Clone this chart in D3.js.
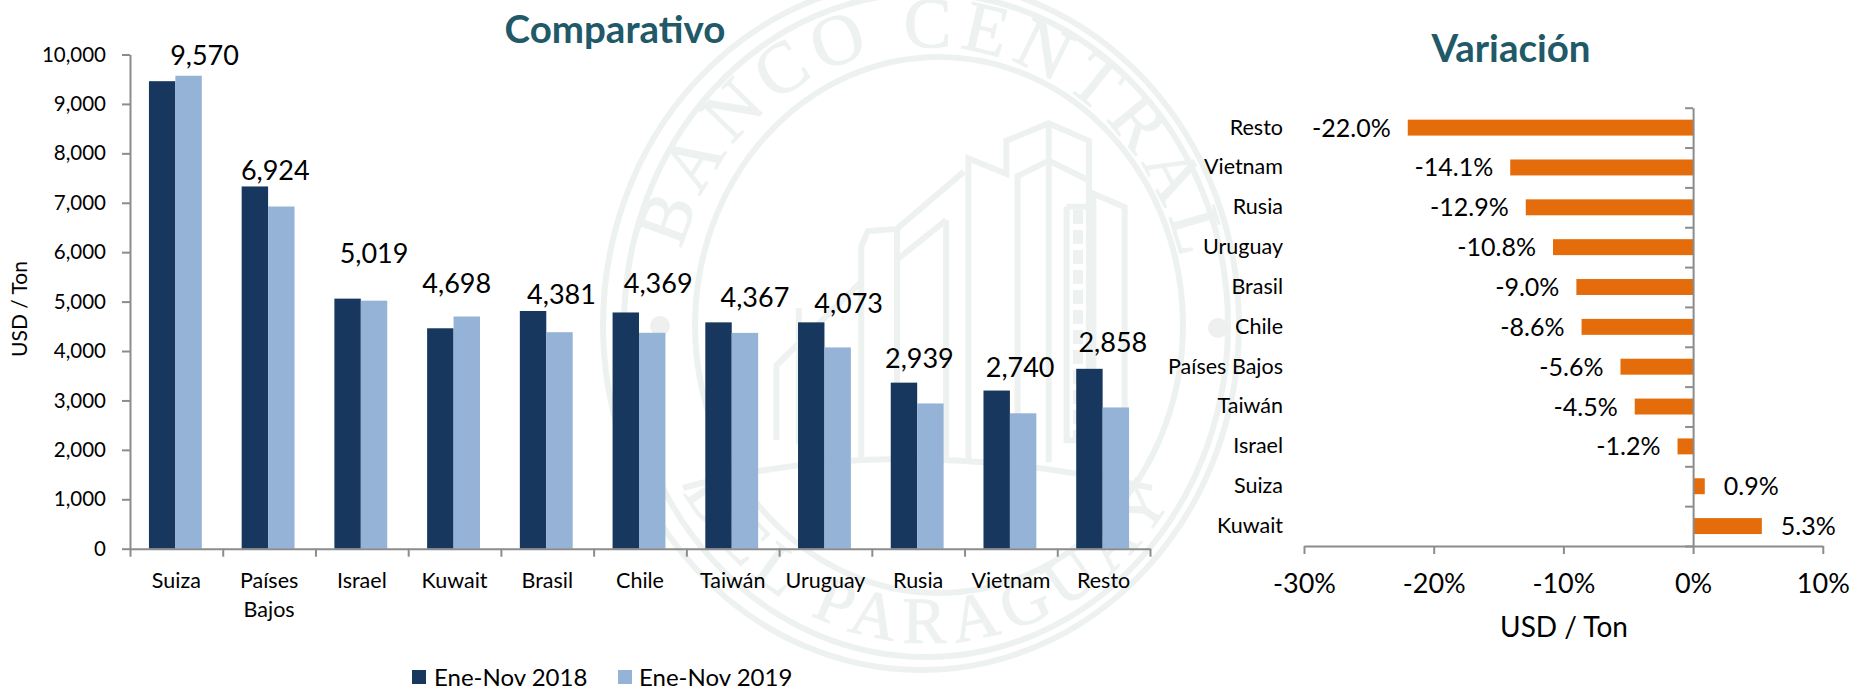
<!DOCTYPE html>
<meta charset="utf-8">
<style>
  html, body { margin: 0; padding: 0; background: #fff; }
  svg { display: block; }
  text { font-family: Lato, "Open Sans", sans-serif; fill: #000; }
  .axis path, .axis line { stroke: #8c8c8c; stroke-width: 2; }
</style>
<script src="https://cdn.jsdelivr.net/npm/d3@7"></script>
<div id="my_dataviz"></div>
<script>

// Comparativo
var categories = ["Suiza", "Países Bajos", "Israel", "Kuwait", "Brasil", "Chile", "Taiwán", "Uruguay", "Rusia", "Vietnam", "Resto"];
var values2018 = [9460, 7330, 5060, 4460, 4810, 4780, 4580, 4580, 3360, 3200, 3640];
var values2019 = [9570, 6924, 5019, 4698, 4381, 4369, 4367, 4073, 2939, 2740, 2858];
var yTicks = [0, 1000, 2000, 3000, 4000, 5000, 6000, 7000, 8000, 9000, 10000];
var seriesNames = ["Ene-Nov 2018", "Ene-Nov 2019"];

// Variación
var varCategories = ["Resto", "Vietnam", "Rusia", "Uruguay", "Brasil", "Chile", "Países Bajos", "Taiwán", "Israel", "Suiza", "Kuwait"];
var varValues = [-22.0, -14.1, -12.9, -10.8, -9.0, -8.6, -5.6, -4.5, -1.2, 0.9, 5.3];
var varTicks = [-30, -20, -10, 0, 10];

var svg = d3.select("#my_dataviz")
  .append("svg")
    .attr("width", 1858)
    .attr("height", 690);

// ---- watermark seal behind the charts
var wmColor = "#edf2f0";
var seal = svg.append("g").attr("fill", "none").attr("stroke", wmColor).attr("stroke-width", 6);
var cx = 930, cy = 325;
[[921, 318, 345], [926, 302, 332], [939, 244, 268]].forEach(function(r) {
  seal.append("ellipse").attr("cx", r[0]).attr("cy", cy).attr("rx", r[1]).attr("ry", r[2]);
});
var building = [
  [[870,1050],[870,360],[955,395],[955,320],[1050,280],[1140,320],[1140,470]],
  [[980,1050],[980,400],[1050,365],[1050,280]],
  [[1050,365],[1140,410]],
  [[1050,365],[1050,1050]],
  [[1150,1050],[1150,440],[1220,470],[1220,1080]],
  [[1090,470],[1140,470],[1140,1000],[1090,1000],[1090,470]],
  [[860,390],[710,520],[645,525],[630,560],[630,1050]],
  [[820,500],[710,590]],
  [[820,500],[820,1050]],
  [[710,520],[710,1050]],
  [[630,640],[440,830],[440,1000]],
  [[490,700],[490,1010]]
];
var zoomLine = d3.line()
  .x(function(d) { return 580 + d[0] / 2.24; })
  .y(function(d) { return d[1] / 2.272; });
building.forEach(function(b) { seal.append("path").attr("d", zoomLine(b)); });
seal.append("path").attr("d", "M683,488 Q890,430 1152,488");
seal.append("path").attr("d", "M1078,210 V440").attr("stroke-width", 10).attr("stroke-dasharray", "14 6");

var defs = svg.append("defs");
defs.append("path").attr("id", "arcTop").attr("d", "M" + (cx - 258) + "," + cy + " A258,278 0 0 1 " + (cx + 258) + "," + cy);
defs.append("path").attr("id", "arcBottom").attr("d", "M" + (cx - 290) + "," + cy + " A290,318 0 0 0 " + (cx + 290) + "," + cy);
[["#arcTop", "BANCO CENTRAL", 8, 72, "51%"], ["#arcBottom", "DEL PARAGUAY", 9, 66, "50%"]].forEach(function(t) {
  svg.append("text")
      .style("font-family", "'Liberation Serif', serif")
      .style("font-size", t[3] + "px")
      .style("fill", wmColor)
      .style("stroke", wmColor)
      .style("letter-spacing", t[2] + "px")
      .attr("text-anchor", "middle")
    .append("textPath")
      .attr("href", t[0])
      .attr("startOffset", t[4])
      .text(t[1]);
});
[[660, 326], [1218, 328]].forEach(function(p) {
  svg.append("circle").attr("cx", p[0]).attr("cy", p[1]).attr("r", 10).attr("fill", "#eef0ef");
});

// ---- left chart
var colors = ["#17375e", "#95b3d7"];
var x = d3.scaleBand().domain(categories).range([130, 1150]).paddingInner(0.43).paddingOuter(0.215);
var xSub = d3.scaleBand().domain([0, 1]).range([0, x.bandwidth()]);
var y = d3.scaleLinear().domain([0, 10000]).range([548.7, 54.5]);
var xEdges = d3.scaleLinear().domain([0, categories.length]).range([130, 1150]);

[values2018, values2019].forEach(function(vals, s) {
  svg.append("g").selectAll("rect")
    .data(vals)
    .enter()
    .append("rect")
      .attr("x", function(d, i) { return x(categories[i]) + xSub(s) - 1; })
      .attr("y", function(d) { return y(d); })
      .attr("width", xSub.bandwidth())
      .attr("height", function(d) { return y(0) - y(d); })
      .attr("fill", colors[s]);
});

var yAxis = svg.append("g")
  .attr("class", "axis")
  .attr("transform", "translate(130,0)")
  .call(d3.axisLeft(y).tickValues(yTicks).tickFormat(d3.format(",")).tickSize(8).tickPadding(16).tickSizeOuter(0));
yAxis.selectAll("text").style("font-size", "20.5px");

svg.append("g")
  .attr("class", "axis")
  .attr("transform", "translate(0,548.7)")
  .call(d3.axisBottom(xEdges).tickValues(d3.range(0, categories.length + 1)).tickFormat("").tickSize(8).tickSizeOuter(0));

// category names, Países Bajos wraps on two lines
var xLabels = svg.append("g")
  .attr("transform", "translate(0,548.7)")
  .call(d3.axisBottom(x).tickSize(0).tickPadding(0));
xLabels.select(".domain").remove();
xLabels.selectAll("text")
  .style("font-size", "21.5px")
  .attr("y", 39)
  .attr("dy", 0)
  .each(function(d) {
    var parts = d.split(" ");
    var t = d3.select(this).text(null);
    parts.forEach(function(p, i) {
      t.append("tspan").attr("x", 0).attr("dy", i ? 29 : 0).text(p);
    });
  });

// value labels were placed by hand in the original, so they carry a nudge from the light bar
var labelDx = [15, -7, -1, -11, 1, 5, 9, 10, -12, -4, -4];
var labelDy = [-11, -26.5, -38, -23.5, -28, -40, -26, -34, -35.5, -36, -55.5];
svg.append("g").selectAll("text")
  .data(values2019)
  .enter()
  .append("text")
    .attr("x", function(d, i) { return x(categories[i]) + xSub(1) + xSub.bandwidth() / 2 + labelDx[i]; })
    .attr("y", function(d, i) { return y(d) + labelDy[i]; })
    .attr("text-anchor", "middle")
    .style("font-size", "27px")
    .text(d3.format(","));

svg.append("text")
  .attr("transform", "translate(27,309)rotate(-90)")
  .attr("text-anchor", "middle")
  .style("font-size", "21px")
  .text("USD / Ton");

svg.append("text")
  .attr("x", 615).attr("y", 43)
  .attr("text-anchor", "middle")
  .style("font-size", "38.5px").style("font-weight", 700).style("fill", "#215968")
  .text("Comparativo");

// legend
var legendX = [412, 618];
var legendTextX = [434, 639];
seriesNames.forEach(function(name, s) {
  svg.append("rect").attr("x", legendX[s]).attr("y", 670).attr("width", 14).attr("height", 14).attr("fill", colors[s]);
  svg.append("text").attr("x", legendTextX[s]).attr("y", 686).style("font-size", "24px").text(name);
});

// ---- right chart
var vx = d3.scaleLinear().domain([-30, 10]).range([1304, 1822.8]);
var vy = d3.scaleBand().domain(varCategories).range([107.7, 546]).padding(0.6).paddingOuter(0.3);
var vyEdges = d3.scaleLinear().domain([0, varCategories.length]).range([107.7, 546]);

svg.append("g").selectAll("rect")
  .data(varValues)
  .enter()
  .append("rect")
    .attr("x", function(d) { return vx(Math.min(0, d)); })
    .attr("y", function(d, i) { return vy(varCategories[i]); })
    .attr("width", function(d) { return Math.abs(vx(d) - vx(0)); })
    .attr("height", vy.bandwidth())
    .attr("fill", "#e46c0a");

svg.append("g")
  .attr("class", "axis")
  .attr("transform", "translate(" + vx(0) + ",0)")
  .call(d3.axisLeft(vyEdges).tickValues(d3.range(0, varCategories.length + 1)).tickFormat("").tickSize(8).tickSizeOuter(0));

var vxAxis = svg.append("g")
  .attr("class", "axis")
  .attr("transform", "translate(0,546)")
  .call(d3.axisBottom(vx).tickValues(varTicks).tickFormat(function(d) { return d + "%"; }).tickSize(8).tickPadding(20).tickSizeOuter(0));
vxAxis.selectAll("text").style("font-size", "27px");

var vyLabels = svg.append("g")
  .attr("transform", "translate(1283,0)")
  .call(d3.axisLeft(vy).tickSize(0).tickPadding(0));
vyLabels.select(".domain").remove();
vyLabels.selectAll("text").style("font-size", "21.5px");

svg.append("g").selectAll("text")
  .data(varValues)
  .enter()
  .append("text")
    .attr("x", function(d) { return vx(d) + (d < 0 ? -17 : 19); })
    .attr("y", function(d, i) { return vy(varCategories[i]) + vy.bandwidth() / 2 + 9; })
    .attr("text-anchor", function(d) { return d < 0 ? "end" : "start"; })
    .style("font-size", "25px")
    .text(function(d) { return d.toFixed(1) + "%"; });

svg.append("text")
  .attr("x", 1564).attr("y", 637)
  .attr("text-anchor", "middle")
  .style("font-size", "28px")
  .text("USD / Ton");

svg.append("text")
  .attr("x", 1511).attr("y", 62)
  .attr("text-anchor", "middle")
  .style("font-size", "38.5px").style("font-weight", 700).style("fill", "#215968")
  .text("Variación");

</script>
